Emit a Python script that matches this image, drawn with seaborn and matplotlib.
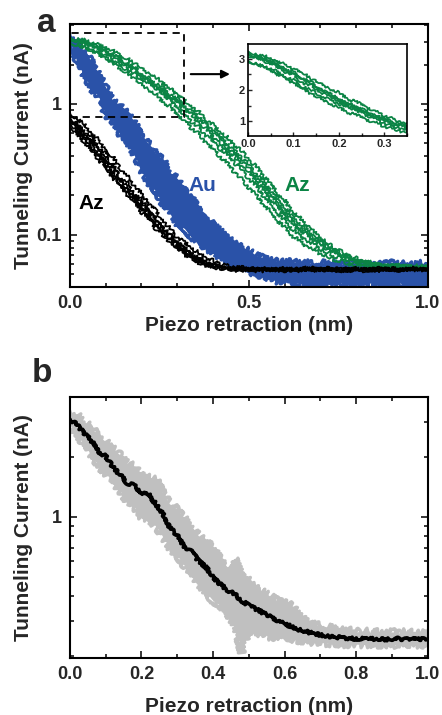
import pandas as pd
import seaborn as sns
import matplotlib
import matplotlib.pyplot as plt
from matplotlib.ticker import MultipleLocator, FixedLocator, FuncFormatter, NullFormatter
from matplotlib.patches import Rectangle

matplotlib.use("Agg")

# Piezo-Rückzug (nm), Raster für alle Kurven
x_nm = [0.00, 0.02, 0.04, 0.06, 0.08, 0.10, 0.12, 0.14, 0.16, 0.18,
        0.20, 0.22, 0.24, 0.26, 0.28, 0.30, 0.32, 0.34, 0.36, 0.38,
        0.40, 0.42, 0.44, 0.46, 0.48, 0.50, 0.52, 0.54, 0.56, 0.58,
        0.60, 0.62, 0.64, 0.66, 0.68, 0.70, 0.72, 0.74, 0.76, 0.78,
        0.80, 0.82, 0.84, 0.86, 0.88, 0.90, 0.92, 0.94, 0.96, 0.98, 1.00]

# Panel a: Az (grün), einzelne Kurven in nA
az_green = {
    "g1": [3.25, 3.12, 3.08, 2.92, 2.84, 2.66, 2.58, 2.33, 2.24, 2.02,
           1.93, 1.70, 1.62, 1.43, 1.33, 1.15, 1.08, 0.93, 0.88, 0.75,
           0.70, 0.60, 0.56, 0.48, 0.44, 0.37, 0.34, 0.28, 0.25, 0.205,
           0.185, 0.152, 0.138, 0.118, 0.108, 0.093, 0.088, 0.078, 0.075, 0.068,
           0.067, 0.062, 0.062, 0.059, 0.060, 0.058, 0.059, 0.057, 0.059, 0.057, 0.058],
    "g2": [3.05, 3.12, 2.88, 2.80, 2.58, 2.50, 2.22, 2.15, 1.92, 1.83,
           1.60, 1.55, 1.37, 1.28, 1.10, 1.03, 0.88, 0.84, 0.70, 0.66,
           0.55, 0.51, 0.43, 0.40, 0.33, 0.31, 0.255, 0.225, 0.185, 0.17,
           0.138, 0.126, 0.108, 0.102, 0.089, 0.086, 0.077, 0.075, 0.068, 0.067,
           0.062, 0.062, 0.059, 0.059, 0.056, 0.058, 0.056, 0.057, 0.055, 0.057, 0.056],
    "g3": [2.95, 2.82, 2.72, 2.52, 2.42, 2.20, 2.08, 1.85, 1.75, 1.55,
           1.45, 1.27, 1.20, 1.03, 0.96, 0.81, 0.76, 0.64, 0.60, 0.50,
           0.46, 0.39, 0.36, 0.295, 0.27, 0.225, 0.205, 0.168, 0.153, 0.127,
           0.116, 0.098, 0.092, 0.081, 0.078, 0.071, 0.069, 0.064, 0.063, 0.059,
           0.059, 0.056, 0.057, 0.055, 0.056, 0.055, 0.056, 0.054, 0.056, 0.055, 0.055],
    "g4": [3.15, 3.02, 2.97, 2.78, 2.70, 2.50, 2.40, 2.18, 2.05, 1.84,
           1.70, 1.48, 1.36, 1.18, 1.08, 0.91, 0.84, 0.72, 0.67, 0.57,
           0.53, 0.45, 0.42, 0.35, 0.32, 0.265, 0.24, 0.195, 0.176, 0.145,
           0.131, 0.110, 0.102, 0.089, 0.086, 0.077, 0.074, 0.068, 0.067, 0.062,
           0.062, 0.058, 0.059, 0.056, 0.058, 0.056, 0.057, 0.055, 0.057, 0.056, 0.056],
    "g5": [2.90, 2.84, 2.72, 2.63, 2.42, 2.33, 2.10, 2.00, 1.80, 1.72,
           1.53, 1.47, 1.32, 1.26, 1.12, 1.06, 0.92, 0.87, 0.75, 0.71,
           0.59, 0.56, 0.46, 0.43, 0.36, 0.33, 0.27, 0.245, 0.20, 0.18,
           0.147, 0.133, 0.113, 0.106, 0.093, 0.089, 0.079, 0.077, 0.069, 0.068,
           0.063, 0.063, 0.059, 0.060, 0.057, 0.059, 0.057, 0.058, 0.057, 0.058, 0.057],
    "g6": [3.20, 3.05, 3.00, 2.85, 2.65, 2.58, 2.35, 2.25, 2.00, 1.92,
           1.68, 1.60, 1.42, 1.35, 1.16, 1.10, 0.95, 0.90, 0.78, 0.72,
           0.62, 0.57, 0.49, 0.45, 0.38, 0.35, 0.29, 0.26, 0.215, 0.195,
           0.160, 0.142, 0.122, 0.112, 0.097, 0.092, 0.082, 0.078, 0.071, 0.069,
           0.064, 0.063, 0.060, 0.060, 0.057, 0.058, 0.056, 0.058, 0.056, 0.057, 0.056],
}

# Panel a: Au (blau), Streuband der Kurven
au_high = [3.40, 3.05, 2.50, 2.15, 1.70, 1.35, 1.05, 0.98, 0.85, 0.74,
           0.56, 0.50, 0.42, 0.38, 0.30, 0.27, 0.22, 0.195, 0.16, 0.145,
           0.120, 0.108, 0.094, 0.088, 0.080, 0.076, 0.070, 0.067, 0.064, 0.063,
           0.062, 0.063, 0.061, 0.062, 0.060, 0.062, 0.060, 0.061, 0.060, 0.062,
           0.060, 0.061, 0.059, 0.061, 0.060, 0.062, 0.059, 0.061, 0.060, 0.061, 0.060]
au_low = [3.00, 2.10, 1.65, 1.30, 1.15, 0.82, 0.74, 0.58, 0.52, 0.41,
          0.31, 0.25, 0.215, 0.17, 0.155, 0.12, 0.112, 0.095, 0.090, 0.078,
          0.074, 0.065, 0.063, 0.057, 0.056, 0.051, 0.051, 0.047, 0.047, 0.044,
          0.045, 0.042, 0.043, 0.041, 0.043, 0.041, 0.042, 0.041, 0.043, 0.041,
          0.042, 0.041, 0.043, 0.041, 0.042, 0.041, 0.043, 0.041, 0.042, 0.041, 0.042]

# Panel a: Az (schwarz), einzelne Kurven
az_black = {
    "k1": [0.85, 0.77, 0.70, 0.58, 0.54, 0.43, 0.40, 0.32, 0.29, 0.235,
           0.21, 0.17, 0.155, 0.125, 0.113, 0.095, 0.089, 0.078, 0.074, 0.066,
           0.064, 0.059, 0.059, 0.056, 0.057, 0.054, 0.056, 0.053, 0.056, 0.054,
           0.055, 0.053, 0.056, 0.054, 0.055, 0.053, 0.056, 0.054, 0.055, 0.053,
           0.055, 0.054, 0.056, 0.053, 0.055, 0.054, 0.055, 0.053, 0.056, 0.054, 0.055],
    "k2": [0.78, 0.66, 0.60, 0.50, 0.46, 0.37, 0.35, 0.27, 0.26, 0.20,
           0.19, 0.15, 0.135, 0.112, 0.102, 0.088, 0.080, 0.072, 0.067, 0.062,
           0.058, 0.058, 0.055, 0.056, 0.054, 0.056, 0.053, 0.055, 0.054, 0.056,
           0.053, 0.055, 0.054, 0.056, 0.053, 0.055, 0.054, 0.055, 0.053, 0.056,
           0.054, 0.055, 0.053, 0.055, 0.054, 0.056, 0.053, 0.055, 0.054, 0.055, 0.054],
    "k3": [0.72, 0.63, 0.55, 0.45, 0.41, 0.33, 0.30, 0.24, 0.225, 0.18,
           0.165, 0.13, 0.122, 0.099, 0.094, 0.079, 0.076, 0.066, 0.064, 0.058,
           0.058, 0.055, 0.056, 0.053, 0.055, 0.054, 0.056, 0.053, 0.055, 0.054,
           0.056, 0.053, 0.055, 0.054, 0.056, 0.053, 0.055, 0.054, 0.055, 0.053,
           0.056, 0.054, 0.055, 0.053, 0.055, 0.054, 0.056, 0.053, 0.055, 0.054, 0.055],
    "k4": [0.68, 0.60, 0.50, 0.45, 0.37, 0.34, 0.27, 0.25, 0.20, 0.185,
           0.148, 0.137, 0.11, 0.102, 0.086, 0.081, 0.070, 0.068, 0.061, 0.060,
           0.056, 0.056, 0.054, 0.055, 0.053, 0.055, 0.054, 0.056, 0.053, 0.055,
           0.054, 0.055, 0.053, 0.056, 0.054, 0.055, 0.053, 0.055, 0.054, 0.056,
           0.053, 0.055, 0.054, 0.055, 0.053, 0.056, 0.054, 0.055, 0.053, 0.055, 0.054],
    "k5": [0.76, 0.71, 0.61, 0.56, 0.46, 0.42, 0.33, 0.27, 0.235, 0.19,
           0.18, 0.145, 0.135, 0.108, 0.100, 0.084, 0.080, 0.069, 0.067, 0.060,
           0.060, 0.056, 0.057, 0.054, 0.056, 0.053, 0.055, 0.054, 0.056, 0.053,
           0.055, 0.054, 0.055, 0.053, 0.056, 0.054, 0.055, 0.053, 0.055, 0.054,
           0.056, 0.053, 0.055, 0.054, 0.055, 0.053, 0.056, 0.054, 0.055, 0.053, 0.055],
    "k6": [0.80, 0.70, 0.56, 0.52, 0.40, 0.38, 0.28, 0.27, 0.21, 0.20,
           0.155, 0.15, 0.118, 0.112, 0.092, 0.087, 0.074, 0.071, 0.063, 0.061,
           0.057, 0.057, 0.055, 0.055, 0.054, 0.055, 0.053, 0.055, 0.054, 0.055,
           0.053, 0.056, 0.054, 0.055, 0.053, 0.055, 0.054, 0.056, 0.053, 0.055,
           0.054, 0.055, 0.053, 0.056, 0.054, 0.055, 0.053, 0.055, 0.054, 0.055, 0.054],
}

# Panel b: Mittelwert und Streubereich
mean_b = [3.10, 2.90, 2.62, 2.42, 2.12, 2.02, 1.78, 1.63, 1.48, 1.44,
          1.32, 1.30, 1.16, 1.04, 0.88, 0.81, 0.71, 0.67, 0.60, 0.56,
          0.50, 0.46, 0.43, 0.41, 0.38, 0.36, 0.345, 0.33, 0.315, 0.302,
          0.29, 0.282, 0.272, 0.266, 0.260, 0.256, 0.252, 0.250, 0.248, 0.246,
          0.245, 0.245, 0.244, 0.245, 0.243, 0.244, 0.245, 0.243, 0.244, 0.244, 0.244]
high_b = [3.40, 3.25, 3.00, 2.85, 2.50, 2.40, 2.20, 2.05, 1.85, 1.80,
          1.62, 1.58, 1.55, 1.32, 1.15, 1.10, 0.98, 0.90, 0.80, 0.76,
          0.70, 0.62, 0.56, 0.62, 0.50, 0.48, 0.44, 0.42, 0.40, 0.38,
          0.37, 0.36, 0.32, 0.30, 0.29, 0.285, 0.28, 0.275, 0.27, 0.27,
          0.265, 0.268, 0.264, 0.266, 0.262, 0.265, 0.262, 0.265, 0.262, 0.264, 0.262]
low_b = [2.90, 2.60, 2.30, 2.05, 1.80, 1.66, 1.50, 1.36, 1.20, 1.12,
         1.00, 0.98, 0.90, 0.80, 0.70, 0.64, 0.57, 0.53, 0.46, 0.42,
         0.38, 0.36, 0.33, 0.29, 0.21, 0.27, 0.26, 0.26, 0.25, 0.25,
         0.245, 0.245, 0.24, 0.24, 0.235, 0.235, 0.232, 0.232, 0.23, 0.23,
         0.23, 0.229, 0.23, 0.228, 0.23, 0.228, 0.229, 0.228, 0.229, 0.228, 0.229]

GREEN = "#0b8445"
BLUE = "#2a52a8"
GREY = "#c0c0c0"


def long_form(traces):
    frames = [pd.DataFrame({"x": x_nm, "I": v, "trace": k}) for k, v in traces.items()]
    return pd.concat(frames, ignore_index=True)


def roughen(artists, scale, length=2.0, randomness=16.0):
    # gezackte Darstellung wie verrauschte Messkurven
    for art in artists:
        art.set_sketch_params(scale, length, randomness)


df_green = long_form(az_green)
df_black = long_form(az_black)
df_au = long_form({"lo": au_low, "hi": au_high})
df_b = pd.DataFrame({"x": x_nm, "I": mean_b})
df_band_b = long_form({"lo": low_b, "hi": high_b})

sns.set_theme(style="ticks")
plt.rcParams["font.family"] = ["Liberation Sans", "DejaVu Sans"]
plt.rcParams["font.weight"] = "bold"
plt.rcParams["axes.labelweight"] = "bold"

fig = plt.figure(figsize=(4.42, 7.15), dpi=100)
ax_a = fig.add_axes([0.158, 0.5986, 0.810, 0.3678])
ax_b = fig.add_axes([0.158, 0.0797, 0.810, 0.3651])


def style_axes(ax, fs=13):
    ax.tick_params(which="both", direction="in", top=True, right=True, width=1.3, labelsize=fs, pad=6)
    ax.tick_params(which="major", length=5)
    ax.tick_params(which="minor", length=3)
    for s in ax.spines.values():
        s.set_linewidth(1.5)
        s.set_color("black")


# ---- Panel a
ax_a.set_yscale("log")
ax_a.fill_between(x_nm, au_low, au_high, color=BLUE, lw=0)
n0 = len(ax_a.lines)
sns.lineplot(data=df_au, x="x", y="I", units="trace", estimator=None, color=BLUE, lw=2.2, ax=ax_a, legend=False)
roughen(ax_a.lines[n0:], 3.0, 1.2)
n0 = len(ax_a.lines)
sns.lineplot(data=df_green, x="x", y="I", units="trace", estimator=None, color=GREEN, lw=1.3, ax=ax_a, legend=False)
roughen(ax_a.lines[n0:], 1.6, 2.0)
n0 = len(ax_a.lines)
sns.lineplot(data=df_black, x="x", y="I", units="trace", estimator=None, color="black", lw=1.3, ax=ax_a, legend=False)
roughen(ax_a.lines[n0:], 1.6, 2.0)
ax_a.set_xlim(0, 1.0)
ax_a.set_ylim(0.04, 4.08)
ax_a.xaxis.set_major_locator(MultipleLocator(0.5))
ax_a.xaxis.set_minor_locator(MultipleLocator(0.1))
ax_a.xaxis.set_major_formatter(FuncFormatter(lambda v, p: f"{v:.1f}"))
ax_a.yaxis.set_major_locator(FixedLocator([0.1, 1]))
ax_a.yaxis.set_major_formatter(FuncFormatter(lambda v, p: f"{v:g}"))
ax_a.yaxis.set_minor_formatter(NullFormatter())
style_axes(ax_a)
ax_a.set_xlabel("Piezo retraction (nm)", fontsize=15)
ax_a.set_ylabel("Tunneling Current (nA)", fontsize=15)
ax_a.xaxis.set_label_coords(0.5, -0.11)
ax_a.yaxis.set_label_coords(-0.103, 0.5)

ax_a.add_patch(Rectangle((0, 0.796), 0.318, 3.48 - 0.796, fill=False, ls=(0, (4, 3)), lw=1.3, ec="black", zorder=5))
ax_a.annotate("", xy=(0.455, 1.69), xytext=(0.33, 1.69),
              arrowprops=dict(arrowstyle="-|>", color="black", lw=1.5, mutation_scale=12))
ax_a.text(0.061, 0.175, "Az", color="black", fontsize=15, fontweight="bold", ha="center", va="center")
ax_a.text(0.369, 0.237, "Au", color=BLUE, fontsize=15, fontweight="bold", ha="center", va="center")
ax_a.text(0.634, 0.237, "Az", color=GREEN, fontsize=15, fontweight="bold", ha="center", va="center")

# Inset
ax_in = fig.add_axes([0.561, 0.8098, 0.360, 0.1287])
sns.lineplot(data=df_green, x="x", y="I", units="trace", estimator=None, color=GREEN, lw=1.3, ax=ax_in, legend=False)
roughen(ax_in.lines, 1.2, 2.0)
ax_in.set_xlim(0, 0.35)
ax_in.set_ylim(0.52, 3.48)
ax_in.xaxis.set_major_locator(MultipleLocator(0.1))
ax_in.xaxis.set_minor_locator(MultipleLocator(0.05))
ax_in.xaxis.set_major_formatter(FuncFormatter(lambda v, p: f"{v:.1f}"))
ax_in.yaxis.set_major_locator(MultipleLocator(1))
ax_in.yaxis.set_minor_locator(MultipleLocator(0.5))
ax_in.tick_params(which="both", direction="in", width=1.0, labelsize=8, pad=2)
ax_in.tick_params(which="major", length=3)
ax_in.tick_params(which="minor", length=2)
for s in ax_in.spines.values():
    s.set_linewidth(1.2)
    s.set_color("black")
ax_in.set_xlabel("")
ax_in.set_ylabel("")

# ---- Panel b
ax_b.set_yscale("log")
ax_b.fill_between(x_nm, low_b, high_b, color=GREY, lw=0)
sns.lineplot(data=df_band_b, x="x", y="I", units="trace", estimator=None, color=GREY, lw=2.4, ax=ax_b, legend=False)
roughen(ax_b.lines, 3.5, 1.2)
n0 = len(ax_b.lines)
sns.lineplot(data=df_b, x="x", y="I", color="black", lw=2.6, ax=ax_b)
roughen(ax_b.lines[n0:], 1.5, 1.5)
ax_b.set_xlim(0, 1.0)
ax_b.set_ylim(0.196, 4.0)
ax_b.xaxis.set_major_locator(MultipleLocator(0.2))
ax_b.xaxis.set_minor_locator(MultipleLocator(0.1))
ax_b.xaxis.set_major_formatter(FuncFormatter(lambda v, p: f"{v:.1f}"))
ax_b.yaxis.set_major_locator(FixedLocator([1]))
ax_b.yaxis.set_major_formatter(FuncFormatter(lambda v, p: f"{v:g}"))
ax_b.yaxis.set_minor_formatter(NullFormatter())
style_axes(ax_b)
ax_b.set_xlabel("Piezo retraction (nm)", fontsize=15)
ax_b.set_ylabel("Tunneling Current (nA)", fontsize=15)
ax_b.xaxis.set_label_coords(0.5, -0.149)
ax_b.yaxis.set_label_coords(-0.103, 0.5)

fig.text(46 / 442, 1 - 23 / 715, "a", fontsize=24, fontweight="bold", ha="center", va="center")
fig.text(42 / 442, 1 - 374 / 715, "b", fontsize=24, fontweight="bold", ha="center", va="center")

plt.savefig("out.png", dpi=100)
